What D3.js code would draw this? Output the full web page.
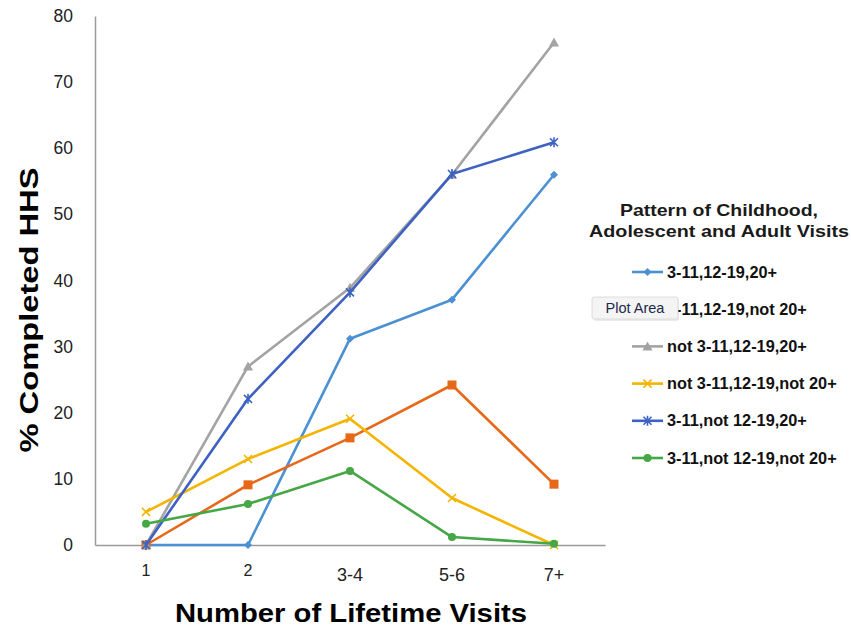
<!DOCTYPE html>
<html>
<head>
<meta charset="utf-8">
<script src="https://cdn.jsdelivr.net/npm/d3@7"></script>
<style>
  body { margin: 0; background: #fff; }
  svg { display: block; }
</style>
</head>
<body>
<svg id="chart" width="851" height="631"></svg>
<script>
const categories = ["1", "2", "3-4", "5-6", "7+"];
const seriesNames = [
  "3-11,12-19,20+",
  "3-11,12-19,not 20+",
  "not 3-11,12-19,20+",
  "not 3-11,12-19,not 20+",
  "3-11,not 12-19,20+",
  "3-11,not 12-19,not 20+"
];
const s1 = [0, 0, 31.2, 37.1, 56];
const s2 = [0, 9.1, 16.2, 24.2, 9.2];
const s3 = [0, 27, 38.9, 56, 76];
const s4 = [5, 13, 19.1, 7.1, 0];
const s5 = [0, 22.1, 38.2, 56.1, 60.9];
const s6 = [3.2, 6.2, 11.2, 1.2, 0.2];
const seriesValues = [s1, s2, s3, s4, s5, s6];
const colors = ["#4a90d2", "#e8681a", "#a3a3a3", "#f4b400", "#3d62c2", "#45a745"];
const markers = ["diamond", "square", "triangle", "x", "star", "circle"];
const yTicks = [0, 10, 20, 30, 40, 50, 60, 70, 80];
const legendTitle = ["Pattern of Childhood,", "Adolescent and Adult Visits"];
const xTitle = "Number of Lifetime Visits";
const yTitle = "% Completed HHS";

const svg = d3.select("#chart");
const font = "'Liberation Sans', Arial, Helvetica, sans-serif";

const x = d3.scaleBand().domain(categories).range([95, 605]);
const y = d3.scaleLinear().domain([0, 80]).range([545, 16]);

// axes
const yAxis = svg.append("g").attr("transform", "translate(95,0)")
  .call(d3.axisLeft(y).tickValues(yTicks).tickSize(0).tickPadding(22));
yAxis.select(".domain").attr("stroke", "#9a9a9a").attr("stroke-width", 1.5);
yAxis.selectAll("text").attr("font-family", font).attr("font-size", 17.5).attr("fill", "#222");

const xAxis = svg.append("g").attr("transform", "translate(0,545)")
  .call(d3.axisBottom(x).tickSize(0).tickPadding(20));
xAxis.select(".domain").attr("stroke", "#9a9a9a").attr("stroke-width", 1.5);
xAxis.selectAll("text").attr("font-family", font).attr("fill", "#222")
  .attr("font-size", (d, i) => i < 2 ? 16 : 18)
  .attr("dy", (d, i) => i < 2 ? "0.71em" : "0.9em");

// series
const line = d3.line().x((d, i) => x(categories[i]) + x.bandwidth() / 2).y(d => y(d));

function drawMarker(g, type, cx, cy, color) {
  const sz = 4;
  if (type === "diamond") {
    g.append("path").attr("d", `M${cx},${cy - sz}L${cx + sz},${cy}L${cx},${cy + sz}L${cx - sz},${cy}Z`).attr("fill", color);
  } else if (type === "square") {
    g.append("rect").attr("x", cx - 4.5).attr("y", cy - 4.5).attr("width", 9).attr("height", 9).attr("fill", color);
  } else if (type === "triangle") {
    g.append("path").attr("d", `M${cx},${cy - 5}L${cx + 5},${cy + 4}L${cx - 5},${cy + 4}Z`).attr("fill", color);
  } else if (type === "x") {
    g.append("path").attr("d", `M${cx - 4},${cy - 4}L${cx + 4},${cy + 4}M${cx - 4},${cy + 4}L${cx + 4},${cy - 4}`).attr("stroke", color).attr("stroke-width", 1.6);
  } else if (type === "star") {
    g.append("path").attr("d", `M${cx - 4},${cy - 4}L${cx + 4},${cy + 4}M${cx - 4},${cy + 4}L${cx + 4},${cy - 4}M${cx},${cy - 5}L${cx},${cy + 5}`).attr("stroke", color).attr("stroke-width", 1.6);
  } else if (type === "circle") {
    g.append("circle").attr("cx", cx).attr("cy", cy).attr("r", 4).attr("fill", color);
  }
}

seriesValues.forEach((vals, si) => {
  const g = svg.append("g");
  g.append("path").datum(vals).attr("d", line).attr("fill", "none")
    .attr("stroke", colors[si]).attr("stroke-width", 2.6).attr("stroke-linejoin", "round");
  vals.forEach((v, i) => drawMarker(g, markers[si], x(categories[i]) + x.bandwidth() / 2, y(v), colors[si]));
});

// axis titles
svg.append("text").attr("x", 351).attr("y", 622).attr("text-anchor", "middle")
  .attr("font-family", font).attr("font-weight", "bold").attr("font-size", 26)
  .attr("textLength", 352).attr("lengthAdjust", "spacingAndGlyphs").attr("fill", "#000").text(xTitle);
svg.append("text").attr("transform", "translate(38,310) rotate(-90)").attr("text-anchor", "middle")
  .attr("font-family", font).attr("font-weight", "bold").attr("font-size", 25)
  .attr("textLength", 285).attr("lengthAdjust", "spacingAndGlyphs").attr("fill", "#000").text(yTitle);

// legend
const lg = svg.append("g");
const titleWidths = [198, 260];
legendTitle.forEach((t, i) => {
  lg.append("text").attr("x", 719).attr("y", 216 + i * 21).attr("text-anchor", "middle")
    .attr("font-family", font).attr("font-weight", "bold").attr("font-size", 17)
    .attr("textLength", titleWidths[i]).attr("lengthAdjust", "spacingAndGlyphs")
    .attr("fill", "#1a1a1a").text(t);
});
seriesNames.forEach((n, i) => {
  const cy = 272 + i * 37.2;
  lg.append("line").attr("x1", 632).attr("x2", 663).attr("y1", cy).attr("y2", cy)
    .attr("stroke", colors[i]).attr("stroke-width", 2.6);
  drawMarker(lg, markers[i], 647.5, cy, colors[i]);
  lg.append("text").attr("x", 667).attr("y", cy + 5.5).attr("font-family", font).attr("font-weight", "bold")
    .attr("font-size", 16.3).attr("fill", "#111").text(n);
});

// tooltip overlay
const tip = svg.append("g");
tip.append("rect").attr("x", 594).attr("y", 299).attr("width", 85).attr("height", 22).attr("rx", 2)
  .attr("fill", "#000").attr("opacity", 0.08);
tip.append("rect").attr("x", 592).attr("y", 297).attr("width", 86).attr("height", 22).attr("rx", 2)
  .attr("fill", "#f4f4f4").attr("stroke", "#d6d6d6").attr("stroke-width", 0.8);
tip.append("text").attr("x", 635).attr("y", 313).attr("text-anchor", "middle")
  .attr("font-family", font).attr("font-size", 14.5).attr("fill", "#1d2b4a").text("Plot Area");
</script>
</body>
</html>
